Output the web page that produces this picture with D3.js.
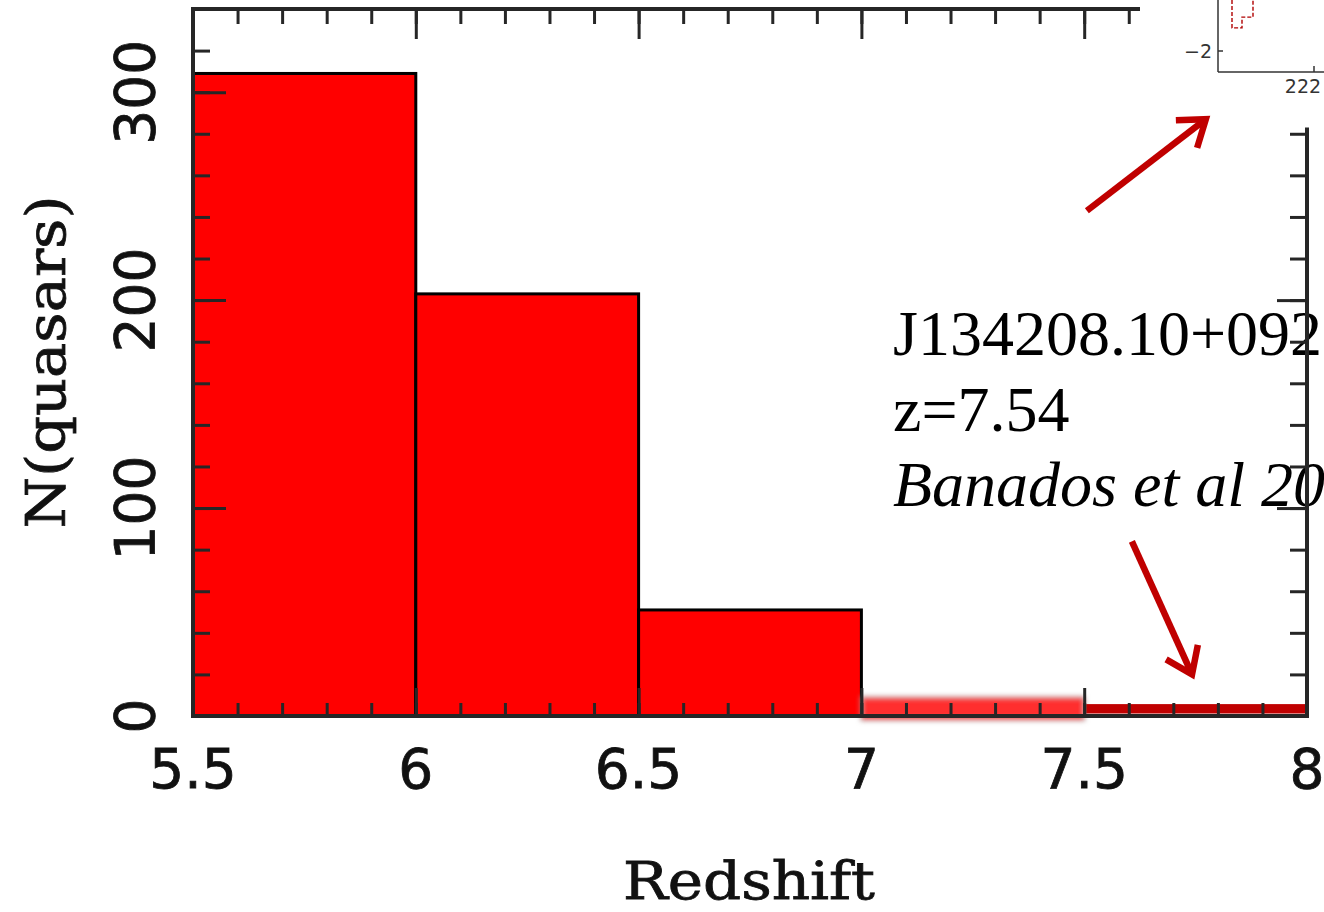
<!DOCTYPE html>
<html>
<head>
<meta charset="utf-8">
<script src="https://cdn.jsdelivr.net/npm/d3@7"></script>
<style>
  html, body { margin: 0; padding: 0; background: #fff; }
  svg { display: block; }
</style>
</head>
<body>
<svg id="chart" width="1324" height="912"></svg>
<script>
// Histogram of known high-redshift quasars per redshift bin
const binStarts = [5.5, 6.0, 6.5, 7.0];
const binEnds   = [6.0, 6.5, 7.0, 7.5];
const counts    = [309, 203, 51, 9];

// Highlighted bin holding the z = 7.54 quasar
const highlightBin = [7.5, 8.0];
const highlightCount = 5;

const xTickLabels = [5.5, 6, 6.5, 7, 7.5, 8];
const yTickLabels = [0, 100, 200, 300];

// Annotation text
const noteLines = ["J134208.10+092", "z=7.54", "Banados et al 20"];

// Arrow endpoints in chart units [redshift, count]
const arrowUpFrom = [7.506, 243], arrowUpTo = [7.773, 287];
const arrowDownFrom = [7.607, 84], arrowDownTo = [7.742, 20];

// Corner of a sky-map panel (RA / Dec)
const insetXTicks = [222];
const insetYTicks = [-2];
const insetStepX = [220.36, 220.36, 220.56, 220.56, 220.78, 220.78];
const insetStepY = [-0.3, -1.23, -1.23, -0.87, -0.87, -0.3];

const svg = d3.select("#chart");

const x = d3.scaleLinear().domain([5.5, 8]).range([193, 1307]);
const y = d3.scaleLinear().domain([0, 340]).range([716, 9]);

const frameColor = "#262626";

// ---- bars ----
const bars = svg.append("g");
const solid = d3.range(3);
bars.selectAll("rect.bar")
  .data(solid)
  .join("rect")
  .attr("class", "bar")
  .attr("x", i => x(binStarts[i]))
  .attr("y", i => y(counts[i]))
  .attr("width", i => x(binEnds[i]) - x(binStarts[i]))
  .attr("height", i => y(0) - y(counts[i]))
  .attr("fill", "#ff0000")
  .attr("stroke", "#000")
  .attr("stroke-width", 3);

// soft, smeared bin at 7.0-7.5
const defs = svg.append("defs");
defs.append("filter").attr("id", "smear")
  .attr("x", "-5%").attr("y", "-100%").attr("width", "110%").attr("height", "300%")
  .append("feGaussianBlur").attr("stdDeviation", 2.6);
bars.append("rect")
  .attr("x", x(binStarts[3]))
  .attr("y", y(counts[3]))
  .attr("width", x(binEnds[3]) - x(binStarts[3]))
  .attr("height", y(0) - y(counts[3]) + 4)
  .attr("fill", "#ff2d2d")
  .attr("stroke", "#b0a0a0")
  .attr("stroke-width", 2)
  .attr("filter", "url(#smear)");

// highlighted last bin
bars.append("rect")
  .attr("x", x(highlightBin[0]) + 2)
  .attr("y", y(highlightCount) - 1.5)
  .attr("width", x(highlightBin[1]) - x(highlightBin[0]) - 4)
  .attr("height", y(0) - y(highlightCount) - 1)
  .attr("fill", "#c00000");

// ---- annotation text ----
const note = svg.append("g")
  .attr("font-family", "'Liberation Serif', 'Times New Roman', serif")
  .attr("font-size", 64)
  .attr("fill", "#000");
note.selectAll("text")
  .data(noteLines)
  .join("text")
  .attr("x", 893)
  .attr("y", (d, i) => 355 + i * 75.5)
  .attr("font-style", (d, i) => i === 2 ? "italic" : "normal")
  .text(d => d);

// ---- axes (ticks drawn inward) ----
const minorX = d3.range(0, 26).map(i => +(5.5 + i * 0.1).toFixed(1));
const minorY = d3.range(0, 17).map(i => i * 20);
const rightMinorY = minorY.filter(v => v <= 280);

function strip(g) {
  g.select(".domain").remove();
  g.selectAll(".tick line").attr("stroke", frameColor).attr("stroke-width", 3);
  g.selectAll(".tick text").remove();
}

svg.append("g").attr("transform", `translate(0,${y(0)})`)
  .call(d3.axisBottom(x).tickValues(minorX).tickSize(-13)).call(strip);
svg.append("g").attr("transform", `translate(0,${y(0)})`)
  .call(d3.axisBottom(x).tickValues(xTickLabels).tickSize(-28)).call(strip);

svg.append("g").attr("transform", `translate(0,${y(340)})`)
  .call(d3.axisTop(x).tickValues(minorX.filter(v => x(v) < 1140)).tickSize(-15)).call(strip);
svg.append("g").attr("transform", `translate(0,${y(340)})`)
  .call(d3.axisTop(x).tickValues(xTickLabels.filter(v => x(v) < 1140)).tickSize(-30)).call(strip);

svg.append("g").attr("transform", `translate(${x(5.5)},0)`)
  .call(d3.axisLeft(y).tickValues(minorY).tickSize(-17)).call(strip);
svg.append("g").attr("transform", `translate(${x(5.5)},0)`)
  .call(d3.axisLeft(y).tickValues(yTickLabels).tickSize(-33)).call(strip);

svg.append("g").attr("transform", `translate(${x(8)},0)`)
  .call(d3.axisRight(y).tickValues(rightMinorY).tickSize(-17)).call(strip);
svg.append("g").attr("transform", `translate(${x(8)},0)`)
  .call(d3.axisRight(y).tickValues(yTickLabels.filter(v => v <= 280)).tickSize(-30)).call(strip);

// frame lines
const frame = svg.append("g").attr("stroke", frameColor).attr("stroke-width", 4).attr("fill", "none");
frame.append("line").attr("x1", x(5.5)).attr("x2", x(8) + 2).attr("y1", y(0)).attr("y2", y(0));
frame.append("line").attr("x1", x(5.5)).attr("x2", x(5.5)).attr("y1", y(340) - 2).attr("y2", y(0) + 2);
frame.append("line").attr("x1", x(5.5) - 2).attr("x2", 1140).attr("y1", y(340)).attr("y2", y(340));
frame.append("line").attr("x1", x(8)).attr("x2", x(8)).attr("y1", y(283)).attr("y2", y(0) + 2);

// tick labels
svg.append("g")
  .attr("font-family", "'DejaVu Sans', sans-serif")
  .attr("font-size", 55)
  .attr("fill", "#111")
  .attr("stroke", "#111")
  .attr("stroke-width", 0.8)
  .attr("text-anchor", "middle")
  .selectAll("text")
  .data(xTickLabels)
  .join("text")
  .attr("x", d => x(d))
  .attr("y", 788)
  .text(d => d);

svg.append("g")
  .attr("font-family", "'DejaVu Sans', sans-serif")
  .attr("font-size", 55)
  .attr("fill", "#111")
  .attr("stroke", "#111")
  .attr("stroke-width", 0.8)
  .attr("text-anchor", "middle")
  .selectAll("text")
  .data(yTickLabels)
  .join("text")
  .attr("transform", d => `translate(154,${y(d)}) rotate(-90)`)
  .text(d => d);

// axis titles
svg.append("text")
  .attr("x", 749).attr("y", 899)
  .attr("text-anchor", "middle")
  .attr("font-family", "'DejaVu Serif', serif")
  .attr("font-size", 52)
  .attr("fill", "#111")
  .attr("stroke", "#111")
  .attr("stroke-width", 0.8)
  .attr("textLength", 252)
  .attr("lengthAdjust", "spacingAndGlyphs")
  .text("Redshift");

svg.append("text")
  .attr("transform", "translate(65,362) rotate(-90)")
  .attr("text-anchor", "middle")
  .attr("font-family", "'DejaVu Serif', serif")
  .attr("font-size", 55)
  .attr("fill", "#111")
  .attr("stroke", "#111")
  .attr("stroke-width", 0.8)
  .attr("textLength", 333)
  .attr("lengthAdjust", "spacingAndGlyphs")
  .text("N(quasars)");

// ---- sky-map panel corner ----
const ix = d3.scaleLinear().domain([220.08, 222.2]).range([1218, 1324]);
const iy = d3.scaleLinear().domain([-2.7, -0.3]).range([72, 0]);
const inset = svg.append("g");
inset.append("rect").attr("x", 1146).attr("y", 0).attr("width", 178).attr("height", 127).attr("fill", "#fff");
inset.append("path")
  .attr("d", d3.line().x(d => ix(d[0])).y(d => iy(d[1]))(insetStepX.map((v, i) => [v, insetStepY[i]])))
  .attr("fill", "none").attr("stroke", "#b00000").attr("stroke-width", 1.4).attr("stroke-dasharray", "4,2");
const ia = inset.append("g").attr("stroke", "#333").attr("stroke-width", 1.5);
ia.append("line").attr("x1", ix.range()[0]).attr("x2", ix.range()[0]).attr("y1", 0).attr("y2", iy(-2.7));
ia.append("line").attr("x1", ix.range()[0]).attr("x2", 1324).attr("y1", iy(-2.7)).attr("y2", iy(-2.7));
insetYTicks.forEach(v => {
  ia.append("line").attr("x1", ix.range()[0]).attr("x2", ix.range()[0] + 5).attr("y1", iy(v)).attr("y2", iy(v));
  inset.append("text").attr("x", 1212).attr("y", iy(v) + 7).attr("text-anchor", "end")
    .attr("font-family", "'DejaVu Sans', sans-serif").attr("font-size", 19).attr("fill", "#333")
    .text("\u2212" + Math.abs(v));
});
insetXTicks.forEach(v => {
  ia.append("line").attr("x1", ix(v)).attr("x2", ix(v)).attr("y1", iy(-2.7)).attr("y2", iy(-2.7) - 6);
  inset.append("text").attr("x", ix(v) - 11).attr("y", 93).attr("text-anchor", "middle")
    .attr("font-family", "'DejaVu Sans', sans-serif").attr("font-size", 19).attr("fill", "#333")
    .text(v);
});

// ---- arrows ----
function arrow(from, to) {
  const x1 = x(from[0]), y1 = y(from[1]), x2 = x(to[0]), y2 = y(to[1]);
  const ang = Math.atan2(y2 - y1, x2 - x1);
  const len = 30, spread = 0.62;
  const a1 = [x2 - len * Math.cos(ang - spread), y2 - len * Math.sin(ang - spread)];
  const a2 = [x2 - len * Math.cos(ang + spread), y2 - len * Math.sin(ang + spread)];
  const g = svg.append("g").attr("stroke", "#c00000").attr("stroke-width", 6.5).attr("fill", "none");
  g.append("line").attr("x1", x1).attr("y1", y1).attr("x2", x2 - 2 * Math.cos(ang)).attr("y2", y2 - 2 * Math.sin(ang));
  g.append("path")
    .attr("d", `M${a1[0]},${a1[1]} L${x2},${y2} L${a2[0]},${a2[1]}`)
    .attr("stroke-linejoin", "miter").attr("stroke-linecap", "butt");
}
arrow(arrowUpFrom, arrowUpTo);
arrow(arrowDownFrom, arrowDownTo);
</script>
</body>
</html>
